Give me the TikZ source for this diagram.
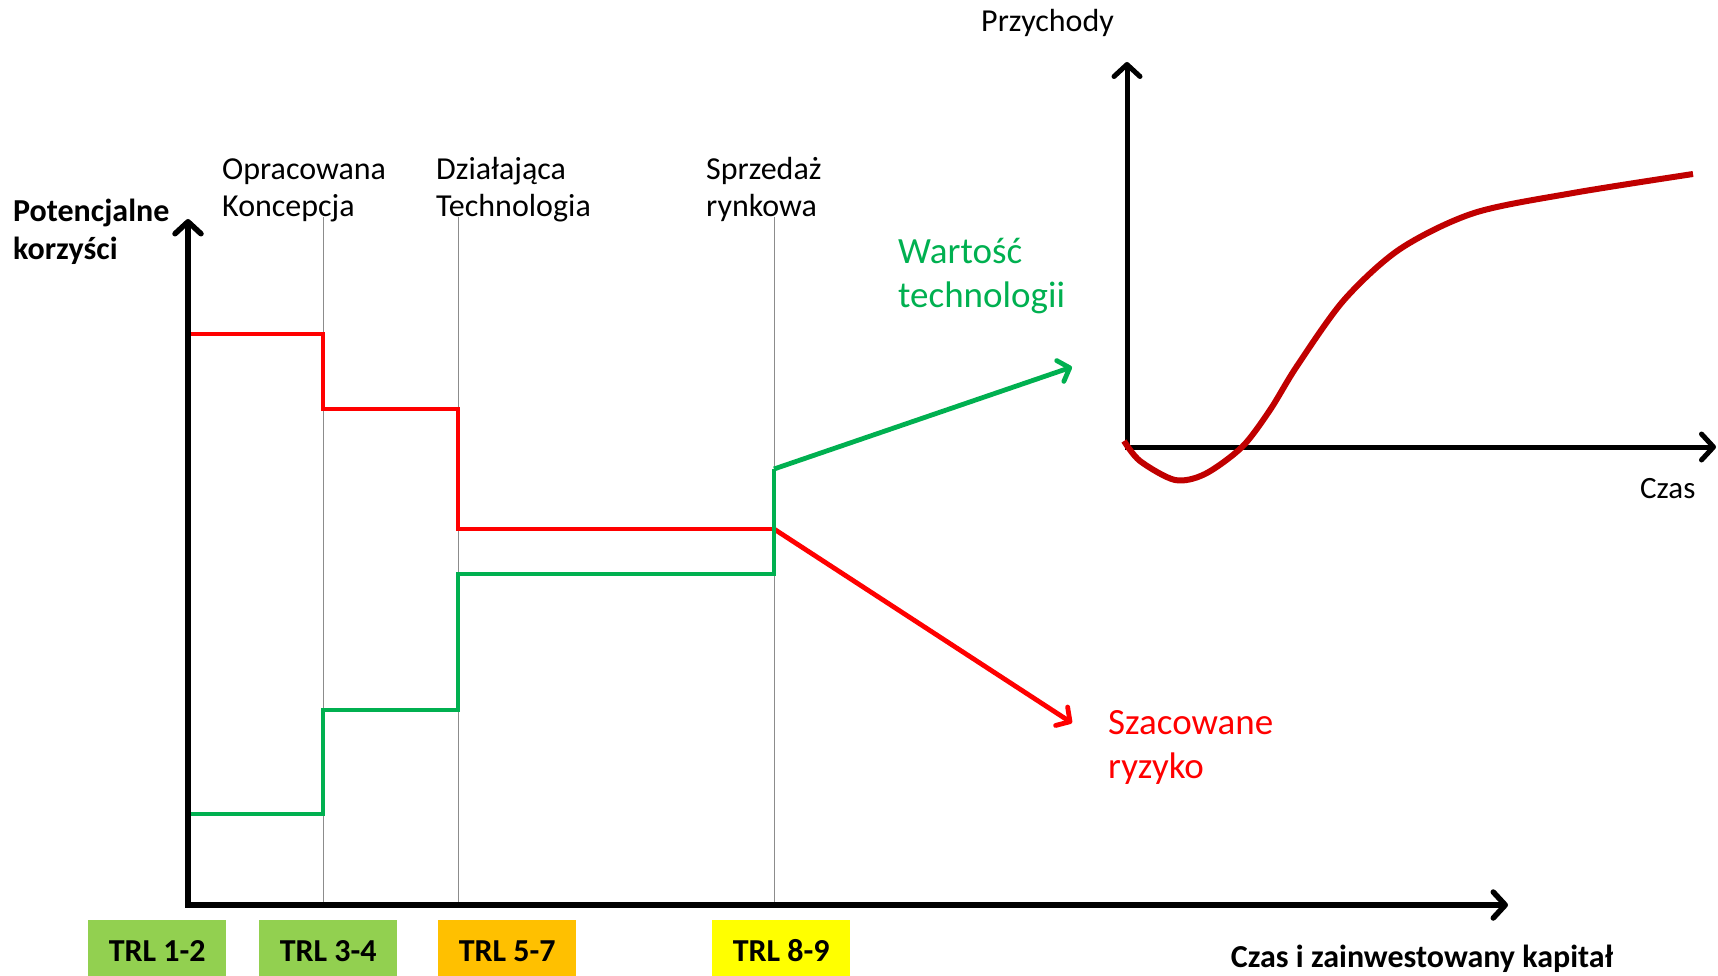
\documentclass[tikz,border=0pt]{standalone}
\usepackage{fontspec}
\setmainfont{Carlito}
\usetikzlibrary{arrows.meta}
\definecolor{rred}{HTML}{FF0000}
\definecolor{ggreen}{HTML}{00B050}
\definecolor{dred}{HTML}{C00000}
\definecolor{trlg}{HTML}{92D050}
\definecolor{trlo}{HTML}{FFC000}
\definecolor{trly}{HTML}{FFFF00}
\definecolor{gline}{HTML}{8C8C8C}
\begin{document}
\begin{tikzpicture}[x=1pt,y=-1pt,
  axisline/.style={line width=5.5pt,-{Straight Barb[length=12pt,width=26pt,round]}},
  riskline/.style={rred,line width=4.8pt,line join=miter},
  valline/.style={ggreen,line width=4.8pt,line join=miter},
  tiparrow/.style={-{Straight Barb[length=10pt,width=22pt,round]}},
  guide/.style={gline,line width=1pt},
  lbl/.style={inner sep=0pt,anchor=base west,font=\fontsize{32}{37}\selectfont},
  blbl/.style={inner sep=0pt,anchor=base west,font=\fontsize{32}{38}\selectfont\bfseries},
  biglbl/.style={inner sep=0pt,anchor=base west,font=\fontsize{37}{44}\selectfont},
  trlbox/.style={inner sep=0pt,minimum width=138pt,minimum height=56pt,anchor=north west},
  trltxt/.style={inner sep=0pt,anchor=base,font=\fontsize{32}{36}\selectfont\bfseries}
]
\useasboundingbox (0,0) rectangle (1718,976);

% coordinates
\coordinate (O) at (188,905);
\coordinate (Ytip) at (188,219);
\coordinate (Xtip) at (1508,905);
\foreach \n/\x in {a/323,b/458,c/774}{
  \coordinate (\n top) at (\x,217);
  \coordinate (\n bot) at (\x,905);
}
% guide lines
\draw[guide] (atop) -- (abot);
\draw[guide] (btop) -- (bbot);
\draw[guide] (ctop) -- (cbot);

% risk (red)
\coordinate (r0) at (188,334);
\coordinate (r1) at (323,334);
\coordinate (r2) at (323,409);
\coordinate (r3) at (458,409);
\coordinate (r4) at (458,529);
\coordinate (r5) at (774,529);
\coordinate (r6) at (1072,723);
\draw[riskline] (r0) -- (r1) -- (r2) -- (r3) -- (r4) -- (r5);
\draw[riskline,tiparrow] (r5) -- (r6);

% value (green)
\coordinate (g0) at (188,905);
\coordinate (g1) at (188,814);
\coordinate (g2) at (323,814);
\coordinate (g3) at (323,710);
\coordinate (g4) at (458,710);
\coordinate (g5) at (458,574);
\coordinate (g6) at (774,574);
\coordinate (g7) at (774,469);
\coordinate (g8) at (1072,367);
\draw[valline] (g0) -- (g1) -- (g2) -- (g3) -- (g4) -- (g5) -- (g6) -- (g7);
\draw[valline,tiparrow] (g7) -- (g8);

% main axes
\draw[axisline] ([yshift=2.75pt]O) -- (Ytip);
\draw[axisline] ([xshift=-2.75pt]O) -- (Xtip);

% revenue chart
\coordinate (O2) at (1127,447);
\coordinate (Y2tip) at (1127,62);
\coordinate (X2tip) at (1716,447);
\draw[axisline,line width=5pt] ([yshift=2.5pt]O2) -- (Y2tip);
\draw[axisline,line width=5pt] ([xshift=-2.5pt]O2) -- (X2tip);
\draw[dred,line width=6pt] plot[smooth,tension=0.5] coordinates {
  (1124,441) (1140,461) (1175,480) (1205,474) (1242,447) (1270,410) (1297,366)
  (1344,300) (1400,249) (1474,213) (1573,193) (1693,174)};

% labels
\node[blbl] (pk1) at (13,222) {Potencjalne};
\node[blbl] (pk2) at (13,260) {korzyści};
\node[lbl] (oc1) at (222,180) {Opracowana};
\node[lbl] (oc2) at (222,217) {Koncepcja};
\node[lbl] (dt1) at (436,180) {Działająca};
\node[lbl] (dt2) at (436,217) {Technologia};
\node[lbl] (sr1) at (706,180) {Sprzedaż};
\node[lbl] (sr2) at (706,217) {rynkowa};
\node[biglbl,text=ggreen] (wt1) at (898,264) {Wartość};
\node[biglbl,text=ggreen] (wt2) at (898,308) {technologii};
\node[biglbl,text=rred] (sz1) at (1108,734) {Szacowane};
\node[biglbl,text=rred] (sz2) at (1108,778) {ryzyko};
\node[lbl] (prz) at (981,32) {Przychody};
\node[lbl,font=\fontsize{31}{37}\selectfont] (czas) at (1640,498) {Czas};
\node[inner sep=0pt,anchor=base,font=\fontsize{32}{38}\selectfont\bfseries] (czk) at (1422,967) {Czas i zainwestowany kapitał};

% TRL boxes
\node[trlbox,fill=trlg] (t1) at (88,920) {};
\node[trlbox,fill=trlg] (t2) at (259,920) {};
\node[trlbox,fill=trlo] (t3) at (438,920) {};
\node[trlbox,fill=trly] (t4) at (712,920) {};
\node[trltxt] at (t1.center |- 0,961) {TRL 1-2};
\node[trltxt] at (t2.center |- 0,961) {TRL 3-4};
\node[trltxt] at (t3.center |- 0,961) {TRL 5-7};
\node[trltxt] at (t4.center |- 0,961) {TRL 8-9};
\end{tikzpicture}
\end{document}
